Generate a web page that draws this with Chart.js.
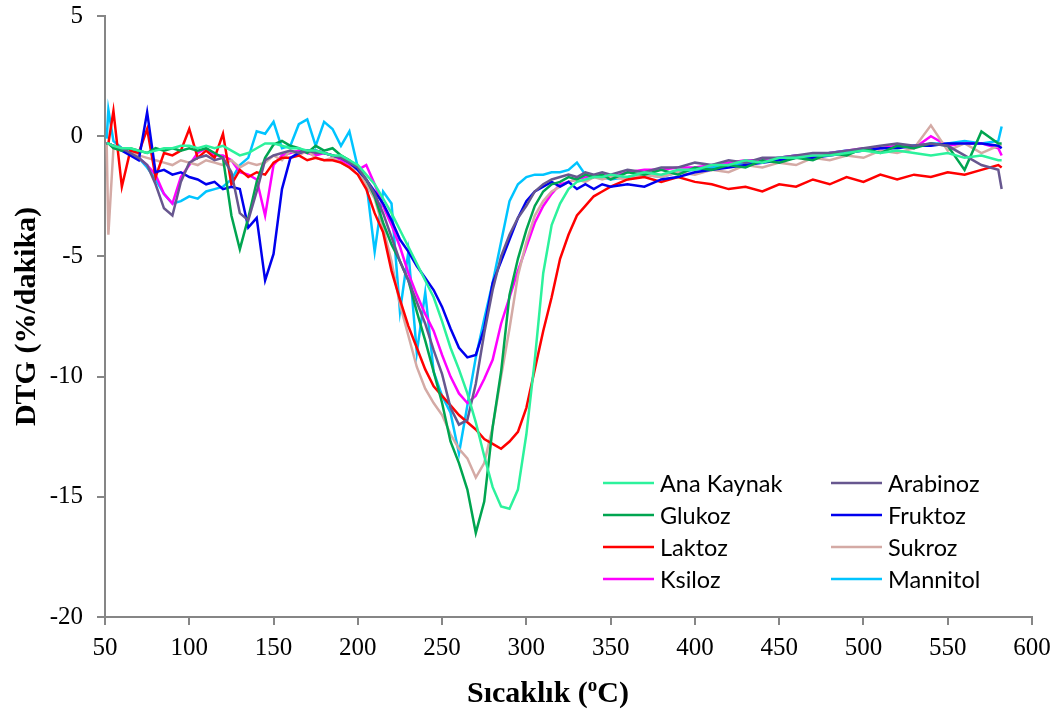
<!DOCTYPE html>
<html>
<head>
<meta charset="utf-8">
<script src="https://cdn.jsdelivr.net/npm/chart.js@4/dist/chart.umd.min.js"></script>
<style>
  html, body { margin: 0; padding: 0; background: #fff; }
</style>
</head>
<body>
<canvas id="dtgChart" width="1063" height="716"></canvas>
<script>
        // Temperature grid (oC)
        const temps = [51, 52, 55,
            60, 65, 70, 75, 80, 85, 90, 95, 100,
            105, 110, 115, 120, 125, 130, 135, 140, 145, 150,
            155, 160, 165, 170, 175, 180, 185, 190, 195, 200,
            205, 210, 215, 220, 225, 230, 235, 240, 245, 250,
            255, 260, 265, 270, 275, 280, 285, 290, 295, 300,
            305, 310, 315, 320, 325, 330, 335, 340, 345, 350,
            360, 370, 380, 390, 400, 410, 420, 430, 440, 450,
            460, 470, 480, 490, 500, 510, 520, 530, 540, 550,
            560, 570, 580, 582];

        // DTG values (%/dakika)
        const anaKaynak = [-0.3, -0.3, -0.4,
            -0.5, -0.5, -0.6, -0.7, -0.6, -0.5, -0.5, -0.4, -0.4,
            -0.5, -0.4, -0.5, -0.4, -0.6, -0.8, -0.7, -0.5, -0.3, -0.3,
            -0.4, -0.5, -0.5, -0.6, -0.6, -0.7, -0.8, -0.8, -1.0, -1.2,
            -1.6, -2.0, -2.6, -3.2, -3.9, -4.6, -5.3, -6.0, -6.7, -7.7,
            -8.8, -9.7, -10.7, -11.9, -13.3, -14.6, -15.4, -15.5, -14.7, -12.4,
            -9.3, -5.7, -3.7, -2.8, -2.2, -1.9, -1.8, -1.7, -1.7, -1.6,
            -1.7, -1.5, -1.6, -1.4, -1.4, -1.2, -1.2, -1.0, -1.1, -0.9,
            -0.9, -0.8, -0.8, -0.7, -0.6, -0.7, -0.6, -0.7, -0.8, -0.7,
            -0.9, -0.8, -1.0, -1.0];

        const arabinoz = [-0.3, -0.3, -0.4,
            -0.5, -0.7, -0.9, -1.2, -2.0, -3.0, -3.3, -1.9, -1.1,
            -0.9, -0.8, -1.0, -0.9, -1.5, -3.2, -3.5, -2.3, -1.0, -0.8,
            -0.7, -0.6, -0.7, -0.6, -0.7, -0.7, -0.8, -0.9, -1.1, -1.3,
            -1.8, -2.4, -3.2, -4.2, -5.2, -6.0, -6.9, -7.8, -8.9, -9.9,
            -11.3, -12.0, -11.8, -10.3, -8.2, -6.4, -5.0, -4.1, -3.4, -2.9,
            -2.3, -2.0, -1.8, -1.7, -1.6, -1.7, -1.5, -1.6, -1.5, -1.6,
            -1.4, -1.5, -1.3, -1.3, -1.1, -1.2, -1.0, -1.1, -0.9, -0.9,
            -0.8, -0.7, -0.7, -0.6, -0.5, -0.4, -0.3, -0.4, -0.3, -0.4,
            -0.8, -1.2, -1.4, -2.2];

        const glukoz = [-0.3, -0.3, -0.5,
            -0.6, -0.5, -0.6, -0.7, -0.5, -0.6, -0.5, -0.6, -0.5,
            -0.6, -0.5, -0.7, -0.9, -3.3, -4.7, -3.4, -1.9, -0.9, -0.35,
            -0.2, -0.4, -0.5, -0.7, -0.4, -0.6, -0.5, -0.8, -1.0, -1.3,
            -1.8, -2.5, -3.6, -4.5, -5.2, -6.0, -7.3, -8.5, -9.8, -11.1,
            -12.7, -13.6, -14.7, -16.5, -15.2, -12.1, -9.8, -6.6, -5.1, -3.9,
            -2.9, -2.3, -2.0, -1.9, -1.7, -1.8, -1.6, -1.7, -1.6, -1.8,
            -1.5, -1.6, -1.4, -1.6, -1.3, -1.4, -1.2, -1.3, -1.0, -1.1,
            -0.9, -1.0, -0.7, -0.8, -0.5, -0.7, -0.4, -0.5, -0.3, -0.4,
            -1.4, 0.2, -0.3, -0.3];

        const fruktoz = [-0.3, -0.3, -0.4,
            -0.6, -0.8, -1.0, 1.0, -1.5, -1.4, -1.6, -1.5, -1.7,
            -1.8, -2.0, -1.9, -2.2, -2.1, -2.2, -3.8, -3.4, -6.0, -4.9,
            -2.2, -0.9, -0.7, -0.6, -0.6, -0.7, -0.8, -0.9, -1.1, -1.4,
            -1.8, -2.3, -2.8, -3.5, -4.3, -4.8, -5.4, -5.9, -6.4, -7.1,
            -8.0, -8.8, -9.2, -9.1, -8.0, -6.1, -5.2, -4.3, -3.4, -2.7,
            -2.3, -2.1, -1.9, -2.1, -1.9, -2.2, -2.0, -2.2, -2.0, -2.1,
            -2.0, -2.1, -1.8, -1.7, -1.5, -1.4, -1.3, -1.2, -1.1, -1.0,
            -0.9, -0.9, -0.8, -0.7, -0.6, -0.5, -0.5, -0.4, -0.4, -0.3,
            -0.3, -0.3, -0.4, -0.5];

        const laktoz = [-0.3, -0.3, 1.05,
            -2.1, -0.6, -0.7, 0.3, -1.7, -0.7, -0.8, -0.6, 0.3,
            -0.9, -0.6, -0.9, 0.1, -2.0, -1.4, -1.7, -1.5, -1.6, -1.1,
            -0.9, -0.9, -0.8, -1.0, -0.9, -1.0, -1.0, -1.1, -1.3, -1.6,
            -2.2, -3.2, -4.0, -5.6, -6.8, -7.9, -8.8, -9.7, -10.4, -10.8,
            -11.2, -11.6, -11.9, -12.2, -12.6, -12.8, -13.0, -12.7, -12.3, -11.3,
            -9.7, -8.1, -6.7, -5.1, -4.1, -3.3, -2.9, -2.5, -2.3, -2.1,
            -1.8, -1.7, -1.9, -1.7, -1.9, -2.0, -2.2, -2.1, -2.3, -2.0,
            -2.1, -1.8, -2.0, -1.7, -1.9, -1.6, -1.8, -1.6, -1.7, -1.5,
            -1.6, -1.4, -1.2, -1.3];

        const sukroz = [-0.3, -4.1, -0.5,
            -0.5, -0.6, -0.8, -0.9, -1.0, -1.1, -1.2, -1.0, -1.1,
            -1.2, -1.0, -1.1, -1.2, -1.0, -1.3, -1.1, -1.2, -1.1, -0.8,
            -1.0, -0.6, -0.8, -0.6, -0.9, -1.0, -0.9, -1.1, -1.3, -1.4,
            -2.0, -2.6, -3.8, -5.2, -7.0, -8.3, -9.6, -10.5, -11.1, -11.6,
            -12.4, -13.0, -13.4, -14.2, -13.6, -12.1, -10.0, -8.0, -5.8, -4.4,
            -3.3, -2.7, -2.3, -2.1, -1.9, -1.8, -1.9, -1.7, -1.8, -1.7,
            -1.8, -1.6, -1.7, -1.5, -1.6, -1.4, -1.5, -1.2, -1.3, -1.1,
            -1.2, -0.9, -1.0, -0.8, -0.9, -0.6, -0.7, -0.5, 0.45, -0.6,
            -0.3, -0.7, -0.4, -0.4];

        const ksiloz = [-0.3, -0.3, -0.4,
            -0.5, -0.7, -0.9, -1.2, -1.6, -2.4, -2.8, -1.7, -1.2,
            -0.7, -0.5, -0.8, -0.8, -1.0, -1.5, -1.6, -1.8, -3.3, -1.2,
            -0.8, -0.7, -0.6, -0.7, -0.8, -0.7, -0.8, -1.0, -1.2, -1.4,
            -1.2, -2.0, -2.9, -3.7, -4.6, -5.7, -6.6, -7.4, -8.1, -9.1,
            -10.0, -10.7, -11.1, -10.8, -10.1, -9.3, -7.8, -6.7, -5.6, -4.6,
            -3.6, -2.9, -2.4, -2.0, -1.9, -1.8, -1.7, -1.7, -1.6, -1.7,
            -1.5, -1.4, -1.4, -1.3, -1.3, -1.2, -1.1, -1.0, -1.0, -0.9,
            -0.8, -0.8, -0.7, -0.6, -0.5, -0.5, -0.4, -0.5, 0.0, -0.4,
            -0.3, -0.3, -0.5, -0.8];

        const mannitol = [-0.1, 1.1, -0.2,
            -0.5, -0.7, -0.9, -1.3, -1.8, -2.4, -2.8, -2.7, -2.5,
            -2.6, -2.3, -2.2, -2.1, -1.8, -1.2, -0.9, 0.2, 0.1, 0.6,
            -0.5, -0.4, 0.5, 0.7, -0.4, 0.6, 0.3, -0.4, 0.2, -1.3,
            -1.9, -4.8, -2.3, -2.8, -7.3, -4.8, -9.0, -6.5, -9.8, -10.8,
            -11.5, -13.2, -11.2, -9.2, -7.6, -6.1, -4.4, -2.7, -2.0, -1.7,
            -1.6, -1.6, -1.5, -1.5, -1.4, -1.1, -1.6, -1.7, -1.7, -1.8,
            -1.7, -1.6, -1.7, -1.5, -1.4, -1.3, -1.2, -1.1, -1.0, -0.9,
            -0.8, -0.8, -0.7, -0.6, -0.6, -0.5, -0.4, -0.4, -0.3, -0.3,
            -0.2, -0.3, -0.2, 0.4];

        const seriesNames = ['Ana Kaynak', 'Arabinoz', 'Glukoz', 'Fruktoz', 'Laktoz', 'Sukroz', 'Ksiloz', 'Mannitol'];
        const seriesValues = [anaKaynak, arabinoz, glukoz, fruktoz, laktoz, sukroz, ksiloz, mannitol];
        const seriesColors = ['#2cf29c', '#67578f', '#00a550', '#0000ee', '#ff0000', '#d4aaa5', '#ff00ff', '#00c4ff'];

        const axisColor = '#868686';
        const serif = "'Liberation Serif', 'Times New Roman', serif";

        // Two-column legend inside the plot (row by row, like the original)
        const legendBox = {
            id: 'legendBox',
            afterDraw(chart) {
                const ctx = chart.ctx;
                ctx.save();
                ctx.font = "23.5px Lato, 'Open Sans', sans-serif";
                ctx.textBaseline = 'middle';
                ctx.textAlign = 'left';
                chart.data.datasets.forEach((ds, i) => {
                    const row = Math.floor(i / 2);
                    const col = i % 2;
                    const lx = col === 0 ? 603 : 831;
                    const ty = 483 + row * 32;
                    ctx.strokeStyle = ds.borderColor;
                    ctx.lineWidth = 2.5;
                    ctx.beginPath();
                    ctx.moveTo(lx, ty);
                    ctx.lineTo(lx + 51, ty);
                    ctx.stroke();
                    ctx.fillStyle = '#000';
                    ctx.fillText(ds.label, lx + 57, ty + 1);
                });
                ctx.restore();
            }
        };

        // X axis title with a superscript o
        const xTitle = {
            id: 'xTitle',
            afterDraw(chart) {
                const ctx = chart.ctx;
                ctx.save();
                ctx.fillStyle = '#000';
                ctx.textBaseline = 'alphabetic';
                const big = 'bold 30px ' + serif;
                const small = 'bold 19px ' + serif;
                const partA = 'Sıcaklık (', partB = 'o', partC = 'C)';
                ctx.font = big;
                const wA = ctx.measureText(partA).width;
                const wC = ctx.measureText(partC).width;
                ctx.font = small;
                const wB = ctx.measureText(partB).width;
                let x = 548 - (wA + wB + wC) / 2;
                const base = 702;
                ctx.font = big;
                ctx.fillText(partA, x, base);
                x += wA;
                ctx.font = small;
                ctx.fillText(partB, x, base - 11);
                x += wB;
                ctx.font = big;
                ctx.fillText(partC, x, base);
                ctx.restore();
            }
        };

        const ctx = document.getElementById('dtgChart').getContext('2d');
        const dtgChart = new Chart(ctx, {
            type: 'line',
            data: {
                datasets: seriesNames.map((name, i) => ({
                    label: name,
                    data: temps.map((t, j) => ({ x: t, y: seriesValues[i][j] })),
                    borderColor: seriesColors[i],
                    backgroundColor: seriesColors[i],
                    borderWidth: 2.5,
                    pointRadius: 0,
                    tension: 0,
                    fill: false
                }))
            },
            options: {
                responsive: false,
                animation: false,
                layout: {
                    padding: { top: 16, right: 31, bottom: 0, left: 0 }
                },
                plugins: {
                    legend: { display: false },
                    tooltip: { enabled: false }
                },
                scales: {
                    x: {
                        type: 'linear',
                        min: 50,
                        max: 600,
                        ticks: {
                            stepSize: 50,
                            color: '#000',
                            padding: 8,
                            font: { family: serif, size: 25 }
                        },
                        grid: {
                            drawOnChartArea: false,
                            drawTicks: true,
                            tickLength: 8,
                            color: axisColor,
                            lineWidth: 2
                        },
                        border: { color: axisColor, width: 2 },
                        afterFit: (scale) => { scale.height = 99; }
                    },
                    y: {
                        type: 'linear',
                        min: -20,
                        max: 5,
                        ticks: {
                            stepSize: 5,
                            color: '#000',
                            padding: 14,
                            font: { family: serif, size: 25 }
                        },
                        grid: {
                            drawOnChartArea: false,
                            drawTicks: true,
                            tickLength: 8,
                            color: axisColor,
                            lineWidth: 2
                        },
                        border: { color: axisColor, width: 2 },
                        title: {
                            display: true,
                            text: 'DTG (%/dakika)',
                            color: '#000',
                            padding: { top: 9, bottom: 0 },
                            font: { family: serif, size: 30, weight: 'bold' }
                        },
                        afterFit: (scale) => {
                            scale.width = 105;
                            scale.paddingTop = 0;
                            scale.paddingBottom = 0;
                        }
                    }
                }
            },
            plugins: [legendBox, xTitle]
        });
</script>
</body>
</html>
